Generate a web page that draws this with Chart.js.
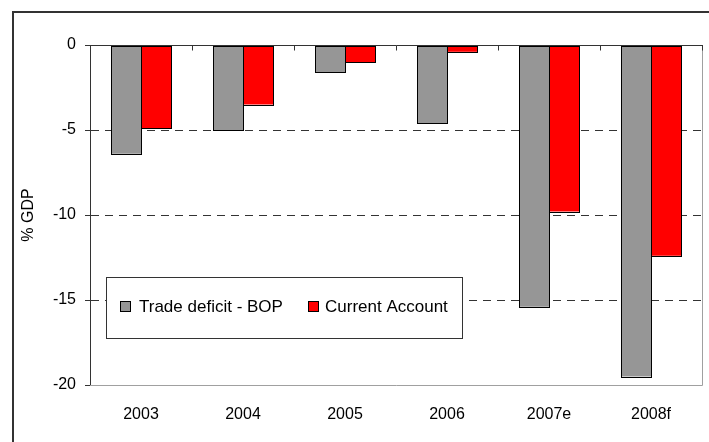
<!DOCTYPE html>
<html>
<head>
<meta charset="utf-8">
<script src="https://cdn.jsdelivr.net/npm/chart.js@4.4.1/dist/chart.umd.min.js"></script>
<style>
  body { margin: 0; background: #fff; }
  canvas { display: block; }
</style>
</head>
<body>
<canvas id="gdpChart" width="709" height="442"></canvas>
<script>
// chart data
const categories = ['2003', '2004', '2005', '2006', '2007e', '2008f'];
const tradeDeficit = [-6.4, -5.0, -1.6, -4.6, -15.4, -19.5];
const currentAccount = [-4.9, -3.5, -1.0, -0.4, -9.8, -12.4];
const seriesNames = ['Trade deficit - BOP', 'Current Account'];
const yTicks = [0, -5, -10, -15, -20];

const FONT = "'Liberation Sans', Arial, sans-serif";

// frame, crisp bar outlines, top axis line with its tick marks, plot border, legend box
const framePlugin = {
    id: 'framePlugin',
    beforeDraw(chart) {
        const ctx = chart.ctx;
        ctx.save();
        ctx.strokeStyle = '#333';
        ctx.lineWidth = 2;
        ctx.beginPath();
        ctx.moveTo(13, 442);
        ctx.lineTo(13, 12);
        ctx.lineTo(709, 12);
        ctx.stroke();
        ctx.restore();
    },
    afterDatasetsDraw(chart) {
        const { ctx, chartArea: a, scales } = chart;
        ctx.save();
        ctx.lineWidth = 1;

        // outline every bar (positions come from the bar elements)
        ctx.strokeStyle = '#000';
        chart.data.datasets.forEach((ds, i) => {
            chart.getDatasetMeta(i).data.forEach(bar => {
                const left = Math.round(bar.x - bar.width / 2);
                const right = Math.round(bar.x + bar.width / 2);
                const top = Math.round(Math.min(bar.y, bar.base));
                const bottom = Math.round(Math.max(bar.y, bar.base));
                ctx.strokeRect(left + 0.5, top + 0.5, right - left, bottom - top);
            });
        });

        // light plot border (right + bottom)
        ctx.strokeStyle = '#a0a0a0';
        ctx.beginPath();
        ctx.moveTo(a.left, a.bottom + 0.5);
        ctx.lineTo(a.right + 0.5, a.bottom + 0.5);
        ctx.lineTo(a.right + 0.5, a.top);
        ctx.stroke();
        // x axis at zero
        const y0 = Math.round(scales.y.getPixelForValue(0)) + 0.5;
        ctx.strokeStyle = '#333';
        ctx.beginPath();
        ctx.moveTo(a.left, y0);
        ctx.lineTo(a.right + 1, y0);
        const step = (a.right - a.left) / categories.length;
        for (let i = 0; i <= categories.length; i++) {
            const x = Math.round(a.left + step * i) + 0.5;
            ctx.moveTo(x, y0);
            ctx.lineTo(x, y0 + 5);
        }
        ctx.stroke();

        // legend box inside the plot
        const bx = 106.5, by = 277.5, bw = 356, bh = 61;
        ctx.fillStyle = '#fff';
        ctx.fillRect(bx, by, bw, bh);
        ctx.strokeStyle = '#333';
        ctx.strokeRect(bx, by, bw, bh);
        ctx.font = '17px ' + FONT;
        ctx.textBaseline = 'middle';
        ctx.textAlign = 'left';
        const items = [
            { x: 120, tx: 139, ds: chart.data.datasets[0] },
            { x: 308, tx: 325, ds: chart.data.datasets[1] }
        ];
        items.forEach(it => {
            ctx.fillStyle = it.ds.backgroundColor;
            ctx.fillRect(it.x + 0.5, 301.5, 10, 10);
            ctx.strokeStyle = '#000';
            ctx.strokeRect(it.x + 0.5, 301.5, 10, 10);
            ctx.fillStyle = '#000';
            ctx.fillText(it.ds.label, it.tx, 307);
        });
        ctx.restore();
    }
};

const ctx = document.getElementById('gdpChart').getContext('2d');
new Chart(ctx, {
    type: 'bar',
    data: {
        labels: categories,
        datasets: [
            {
                label: seriesNames[0],
                data: tradeDeficit,
                backgroundColor: '#969696',
                borderWidth: 0
            },
            {
                label: seriesNames[1],
                data: currentAccount,
                backgroundColor: '#ff0000',
                borderWidth: 0
            }
        ]
    },
    plugins: [framePlugin],
    options: {
        responsive: false,
        animation: false,
        devicePixelRatio: 1,
        categoryPercentage: 60 / 102,
        barPercentage: 1.0,
        layout: { padding: { left: 0, top: 45, right: 7, bottom: 0 } },
        plugins: {
            legend: { display: false },
            tooltip: { enabled: false }
        },
        scales: {
            x: {
                grid: { display: false, drawTicks: false },
                border: { display: false },
                ticks: { color: '#000', font: { family: FONT, size: 16 }, padding: 20 },
                afterFit(scale) { scale.height = 57; }
            },
            y: {
                min: -20,
                max: 0,
                afterBuildTicks(scale) { scale.ticks = yTicks.map(v => ({ value: v })); },
                ticks: { color: '#000', font: { family: FONT, size: 16 }, padding: 9 },
                grid: {
                    color: c => (c.tick && c.tick.value < 0 && c.tick.value > -20) ? '#333' : 'rgba(0,0,0,0)',
                    tickColor: '#333',
                    tickLength: 5
                },
                border: { display: true, color: '#333', width: 1, dash: [8, 6] },
                title: {
                    display: true,
                    text: '% GDP',
                    color: '#000',
                    font: { family: FONT, size: 16 },
                    padding: { top: 19, bottom: 0 }
                },
                afterFit(scale) { scale.width = 90; }
            }
        }
    }
});
</script>
</body>
</html>
